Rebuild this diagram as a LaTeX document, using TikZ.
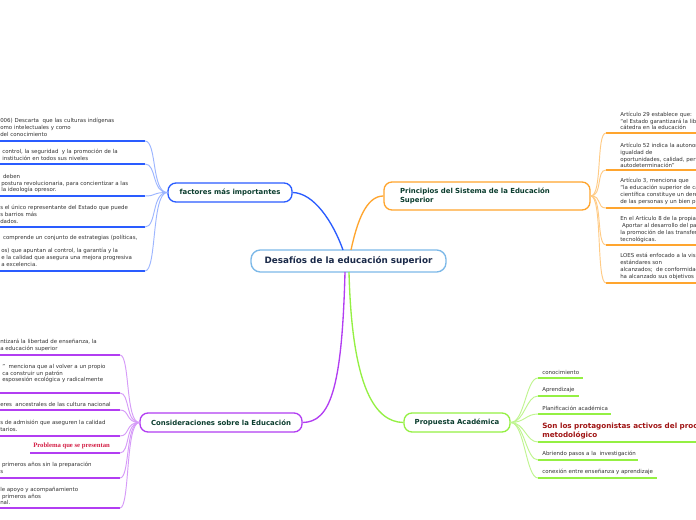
\documentclass[tikz,border=0pt]{standalone}
\usepackage{fontspec}
\setsansfont{DejaVu Sans}
\newfontfamily\probfont{Liberation Serif}
\usetikzlibrary{positioning}

\begin{document}
\begin{tikzpicture}[x=0.75pt, y=-0.75pt, font=\sffamily,
  topic/.style={draw, fill=white, line width=1pt, rounded corners=6pt, inner sep=0pt,
    minimum height=14.25pt, text=nodetext, font=\sffamily\bfseries\fontsize{5.2}{6.6}\selectfont},
  leaf/.style={anchor=west, align=left, inner sep=0pt, text=leafgray,
    font=\sffamily\fontsize{4.1}{5.1}\selectfont},
  uline/.style={line width=1.5pt},
  twig/.style={line width=0.7pt}]
  \definecolor{rootblue}{HTML}{7DB9E8}
  \definecolor{navy}{HTML}{1B2A49}
  \definecolor{nodetext}{HTML}{0B3D2E}
  \definecolor{leafgray}{HTML}{333333}
  \definecolor{fblue}{HTML}{2A5CFF}
  \definecolor{fbluelight}{HTML}{9DB6FF}
  \definecolor{porange}{HTML}{FFA52E}
  \definecolor{porangelight}{HTML}{FFCB85}
  \definecolor{cpurple}{HTML}{B23DF2}
  \definecolor{cpurplelight}{HTML}{D69BF8}
  \definecolor{agreen}{HTML}{94F043}
  \definecolor{agreenlight}{HTML}{C0F590}
  \definecolor{darkred}{HTML}{A01515}
  \definecolor{crimson}{HTML}{D41F46}
  \useasboundingbox[fill=white] (0,0) rectangle (696,520);
  \clip (0,0) rectangle (696,520);

  % centre and main branches
  \node[draw=rootblue, fill=white, line width=1pt, rounded corners=7pt, minimum width=146.25pt, minimum height=16.5pt,
    text=navy, font=\sffamily\bfseries\fontsize{6.6}{7.8}\selectfont] (root) at (348.5,261) {Desafíos de la educación superior};
  \node[topic, draw=fblue, minimum width=93pt] (factores) at (230,192.5) {factores más importantes};
  \node[topic, draw=porange, minimum width=154.5pt, minimum height=21pt, text width=130.5pt, align=left, inner xsep=12pt]
    (principios) at (487,196) {Principios del Sistema de la Educación\\Superior};
  \node[topic, draw=cpurple, minimum width=121.5pt] (consid) at (221,422.5) {Consideraciones sobre la Educación};
  \node[topic, draw=agreen, minimum width=79.5pt] (propuesta) at (457,422.5) {Propuesta Académica};

  \coordinate (rootF) at (343,250);
  \coordinate (rootP) at (351,250);
  \coordinate (rootC) at (345,272);
  \coordinate (rootA) at (349,272);
  \draw[fblue, line width=1pt] (rootF) .. controls (333,222) and (314,193) .. (factores.east);
  \draw[porange, line width=1pt] (rootP) .. controls (357,222) and (366,196) .. (principios.west);
  \draw[cpurple, line width=1pt] (rootC) .. controls (342,390) and (330,422) .. (consid.east);
  \draw[agreen, line width=1pt] (rootA) .. controls (352,390) and (376,422) .. (propuesta.west);

  % factores mas importantes
  \coordinate (f1s) at (-5,141);  \coordinate (f1e) at (145,141);
  \coordinate (f2s) at (-5,164);  \coordinate (f2e) at (145,164);
  \coordinate (f3s) at (-5,196);  \coordinate (f3e) at (145,196);
  \coordinate (f4s) at (-5,227);  \coordinate (f4e) at (145,227);
  \coordinate (f5s) at (-5,271);  \coordinate (f5e) at (145,271);
  \draw[uline, fblue] (f1s) -- (f1e);
  \draw[uline, fblue] (f2s) -- (f2e);
  \draw[uline, fblue] (f3s) -- (f3e);
  \draw[uline, fblue] (f4s) -- (f4e);
  \draw[uline, fblue] (f5s) -- (f5e);
  \draw[twig, fbluelight] (factores.west) .. controls +(-16,0) and +(12,0) .. (f1e);
  \draw[twig, fbluelight] (factores.west) .. controls +(-16,0) and +(12,0) .. (f2e);
  \draw[twig, fbluelight] (factores.west) .. controls +(-16,0) and +(12,0) .. (f3e);
  \draw[twig, fbluelight] (factores.west) .. controls +(-16,0) and +(12,0) .. (f4e);
  \draw[twig, fbluelight] (factores.west) .. controls +(-16,0) and +(12,0) .. (f5e);
  \node[leaf] (f1) at (0,127.5) {006) Descarta\ \ que las culturas indígenas\\omo intelectuales y como\\del conocimiento};
  \node[leaf] (f2) at (2,155) {control, la seguridad\ \ y la promoción de la\\institución en todos sus niveles};
  \node[leaf] (f3) at (1,183.5) {\ deben\\postura revolucionaria, para concientizar a las\\la ideología opresor.};
  \node[leaf] (f4) at (0,214.5) {s el único representante del Estado que puede\\s barrios más\\dados.};
  \node[leaf] (f5) at (1,250.5) {\ comprende un conjunto de estrategias (políticas,\\[5.1pt]os) que apuntan al control, la garantía y la\\e la calidad que asegura una mejora progresiva\\a excelencia.};

  % principios del sistema
  \coordinate (p1s) at (606,133);  \coordinate (p1e) at (700,133);
  \coordinate (p2s) at (606,170);  \coordinate (p2e) at (700,170);
  \coordinate (p3s) at (606,208);  \coordinate (p3e) at (700,208);
  \coordinate (p4s) at (606,245);  \coordinate (p4e) at (700,245);
  \coordinate (p5s) at (606,283);  \coordinate (p5e) at (700,283);
  \draw[uline, porange] (p1s) -- (p1e);
  \draw[uline, porange] (p2s) -- (p2e);
  \draw[uline, porange] (p3s) -- (p3e);
  \draw[uline, porange] (p4s) -- (p4e);
  \draw[uline, porange] (p5s) -- (p5e);
  \draw[twig, porangelight] (principios.east) .. controls +(12,0) and +(-10,0) .. (p1s);
  \draw[twig, porangelight] (principios.east) .. controls +(12,0) and +(-10,0) .. (p2s);
  \draw[twig, porangelight] (principios.east) .. controls +(12,0) and +(-10,0) .. (p3s);
  \draw[twig, porangelight] (principios.east) .. controls +(12,0) and +(-10,0) .. (p4s);
  \draw[twig, porangelight] (principios.east) .. controls +(12,0) and +(-10,0) .. (p5s);
  \node[leaf] (p1) at (620,121) {Artículo 29 establece que:\\``el Estado garantizará la libertad\\cátedra en la educación};
  \node[leaf] (p2) at (620,155.5) {Artículo 52 indica la autonomía\\igualdad de\\oportunidades, calidad, pertinencia\\autodeterminación''};
  \node[leaf] (p3) at (620,191.5) {Artículo 3, menciona que\\``la educación superior de carácter\\científica constituye un derecho\\de las personas y un bien público};
  \node[leaf] (p4) at (620,229.5) {En el Artículo 8 de la propia Ley\\\ Aportar al desarrollo del país\\la promoción de las transferencias\\tecnológicas.};
  \node[leaf] (p5) at (620,266.5) {LOES está enfocado a la visión\\estándares son\\alcanzados;\ \ de conformidad\\ha alcanzado sus objetivos};

  % consideraciones sobre la educacion
  \coordinate (c1s) at (-5,355);  \coordinate (c1e) at (120,355);
  \coordinate (c2s) at (-5,393);  \coordinate (c2e) at (120,393);
  \coordinate (c3s) at (-5,410);  \coordinate (c3e) at (120,410);
  \coordinate (c4s) at (-5,436);  \coordinate (c4e) at (120,436);
  \coordinate (c5s) at (30,453);  \coordinate (c5e) at (120,453);
  \coordinate (c6s) at (-5,478);  \coordinate (c6e) at (120,478);
  \coordinate (c7s) at (-5,508);  \coordinate (c7e) at (120,508);
  \draw[uline, cpurple] (c1s) -- (c1e);
  \draw[uline, cpurple] (c2s) -- (c2e);
  \draw[uline, cpurple] (c3s) -- (c3e);
  \draw[uline, cpurple] (c4s) -- (c4e);
  \draw[uline, cpurple] (c5s) -- (c5e);
  \draw[uline, cpurple] (c6s) -- (c6e);
  \draw[uline, cpurple] (c7s) -- (c7e);
  \draw[twig, cpurplelight] (consid.west) .. controls +(-14,0) and +(10,0) .. (c1e);
  \draw[twig, cpurplelight] (consid.west) .. controls +(-14,0) and +(10,0) .. (c2e);
  \draw[twig, cpurplelight] (consid.west) .. controls +(-14,0) and +(10,0) .. (c3e);
  \draw[twig, cpurplelight] (consid.west) .. controls +(-14,0) and +(10,0) .. (c4e);
  \draw[twig, cpurplelight] (consid.west) .. controls +(-14,0) and +(10,0) .. (c5e);
  \draw[twig, cpurplelight] (consid.west) .. controls +(-14,0) and +(10,0) .. (c6e);
  \draw[twig, cpurplelight] (consid.west) .. controls +(-14,0) and +(10,0) .. (c7e);
  \node[leaf] (c1) at (0,345.5) {ntizará la libertad de enseñanza, la\\a educación superior};
  \node[leaf] (c2) at (2,373.5) {''\ \ menciona que al volver a un propio\\ca construir un patrón\\esposesión ecológica y radicalmente};
  \node[leaf] (c3) at (0,404) {eres\ \ ancestrales de las cultura nacional};
  \node[leaf] (c4) at (0,425.5) {s de admisión que aseguren la calidad\\tarios.};
  \node[leaf, text=crimson, font=\probfont\bfseries\fontsize{5}{6}\selectfont] (c5) at (33,446) {Problema que se presentan};
  \node[leaf] (c6) at (0,468) {\ primeros años sin la preparación\\s};
  \node[leaf] (c7) at (0,496) {le apoyo y acompañamiento\\\ primeros años\\nal.};

  % propuesta academica
  \coordinate (a1s) at (538,378);  \coordinate (a1e) at (583,378);
  \coordinate (a2s) at (538,396);  \coordinate (a2e) at (579,396);
  \coordinate (a3s) at (538,414);  \coordinate (a3e) at (611,414);
  \coordinate (a4s) at (538,442);  \coordinate (a4e) at (700,442);
  \coordinate (a5s) at (538,460);  \coordinate (a5e) at (638,460);
  \coordinate (a6s) at (538,478);  \coordinate (a6e) at (657,478);
  \draw[uline, agreen] (a1s) -- (a1e);
  \draw[uline, agreen] (a2s) -- (a2e);
  \draw[uline, agreen] (a3s) -- (a3e);
  \draw[uline, agreen] (a4s) -- (a4e);
  \draw[uline, agreen] (a5s) -- (a5e);
  \draw[uline, agreen] (a6s) -- (a6e);
  \draw[twig, agreenlight] (propuesta.east) .. controls +(14,0) and +(-12,0) .. (a1s);
  \draw[twig, agreenlight] (propuesta.east) .. controls +(14,0) and +(-12,0) .. (a2s);
  \draw[twig, agreenlight] (propuesta.east) .. controls +(14,0) and +(-12,0) .. (a3s);
  \draw[twig, agreenlight] (propuesta.east) .. controls +(14,0) and +(-12,0) .. (a4s);
  \draw[twig, agreenlight] (propuesta.east) .. controls +(14,0) and +(-12,0) .. (a5s);
  \draw[twig, agreenlight] (propuesta.east) .. controls +(14,0) and +(-12,0) .. (a6s);
  \node[leaf] (a1) at (542,372) {conocimiento};
  \node[leaf] (a2) at (542,390) {Aprendizaje};
  \node[leaf] (a3) at (542,408) {Planificación académica};
  \node[leaf, text=darkred, font=\sffamily\bfseries\fontsize{5.4}{6.8}\selectfont] (a4) at (542,431.5) {Son los protagonistas activos del proceso\\metodológico};
  \node[leaf] (a5) at (542,454) {Abriendo pasos a la\ \ investigación};
  \node[leaf] (a6) at (542,472) {conexión entre enseñanza y aprendizaje};
\end{tikzpicture}
\end{document}
